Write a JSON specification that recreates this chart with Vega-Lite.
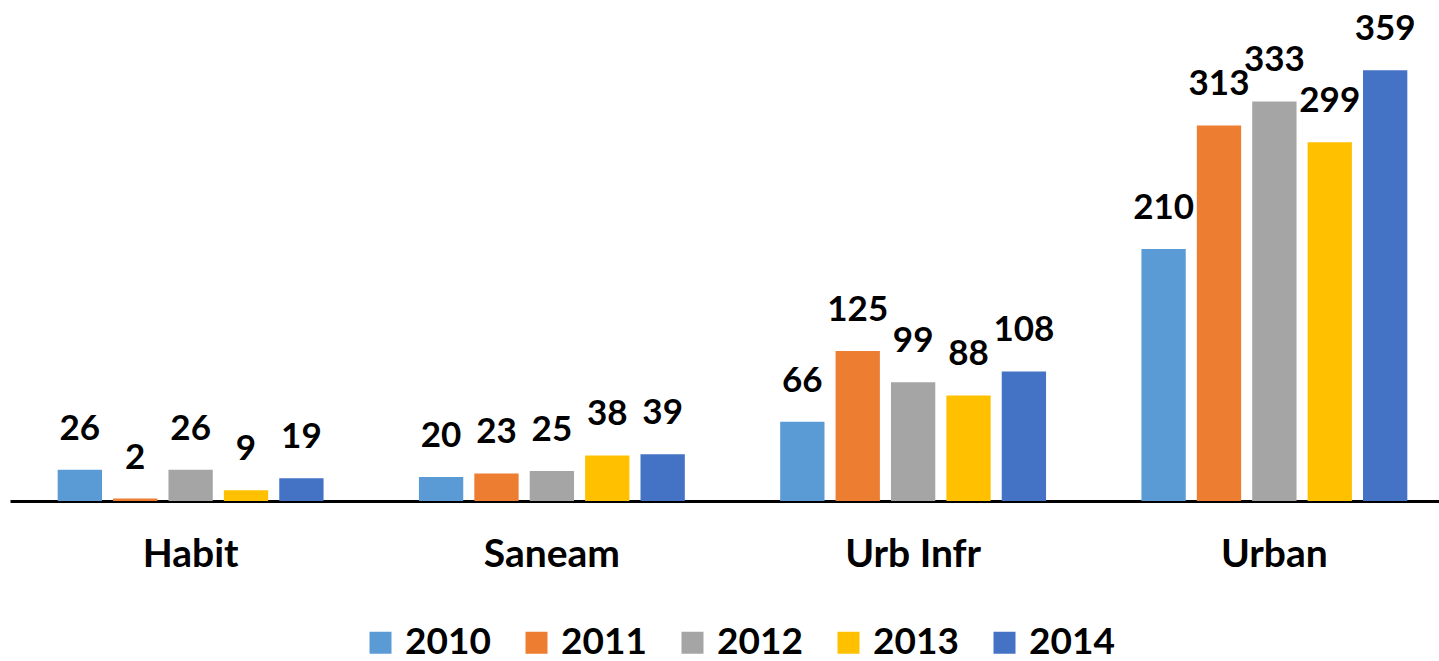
{
  "$schema": "https://vega.github.io/schema/vega-lite/v6.json",
  "autosize": {"type": "none"},
  "width": 1445,
  "height": 480,
  "padding": {"left": 10, "top": 21, "right": 0, "bottom": 160},
  "background": "white",
  "data": {"values": [
    {"cat": "Habit", "year": "2010", "value": 26},
    {"cat": "Habit", "year": "2011", "value": 2},
    {"cat": "Habit", "year": "2012", "value": 26},
    {"cat": "Habit", "year": "2013", "value": 9},
    {"cat": "Habit", "year": "2014", "value": 19},
    {"cat": "Saneam", "year": "2010", "value": 20},
    {"cat": "Saneam", "year": "2011", "value": 23},
    {"cat": "Saneam", "year": "2012", "value": 25},
    {"cat": "Saneam", "year": "2013", "value": 38},
    {"cat": "Saneam", "year": "2014", "value": 39},
    {"cat": "Urb Infr", "year": "2010", "value": 66},
    {"cat": "Urb Infr", "year": "2011", "value": 125},
    {"cat": "Urb Infr", "year": "2012", "value": 99},
    {"cat": "Urb Infr", "year": "2013", "value": 88},
    {"cat": "Urb Infr", "year": "2014", "value": 108},
    {"cat": "Urban", "year": "2010", "value": 210},
    {"cat": "Urban", "year": "2011", "value": 313},
    {"cat": "Urban", "year": "2012", "value": 333},
    {"cat": "Urban", "year": "2013", "value": 299},
    {"cat": "Urban", "year": "2014", "value": 359}
  ]},
  "encoding": {
    "x": {"field": "cat", "type": "nominal", "sort": null,
      "scale": {"paddingInner": 0.264, "paddingOuter": 0.132},
      "axis": {"title": null, "labelAngle": 0, "ticks": false, "domainColor": "#000000", "domainWidth": 3,
        "labelFont": "Lato", "labelFontWeight": "bold", "labelFontSize": 39, "labelColor": "#000000", "labelPadding": 34}},
    "xOffset": {"field": "year", "type": "nominal", "scale": {"paddingInner": 0.2, "paddingOuter": 0}},
    "y": {"field": "value", "type": "quantitative", "scale": {"domain": [0, 400], "nice": false}, "axis": null}
  },
  "layer": [
    {"mark": {"type": "bar"},
     "encoding": {
       "color": {"field": "year", "type": "nominal",
         "scale": {"domain": ["2010", "2011", "2012", "2013", "2014"], "range": ["#5B9BD5", "#ED7D31", "#A5A5A5", "#FFC000", "#4472C4"]},
         "legend": {"title": null, "orient": "none", "direction": "horizontal", "legendX": 352, "legendY": 603,
           "symbolType": "square", "symbolSize": 484, "symbolStrokeWidth": 0, "labelFont": "Lato", "labelFontWeight": "bold",
           "labelFontSize": 37, "labelColor": "#000000", "labelOffset": 6, "columnPadding": 27}}
     }},
    {"mark": {"type": "text", "baseline": "alphabetic", "dy": -30, "font": "Lato", "fontWeight": "bold", "fontSize": 35, "color": "#000000"},
     "encoding": {"text": {"field": "value", "type": "quantitative"}}}
  ],
  "config": {"view": {"stroke": null}}
}
